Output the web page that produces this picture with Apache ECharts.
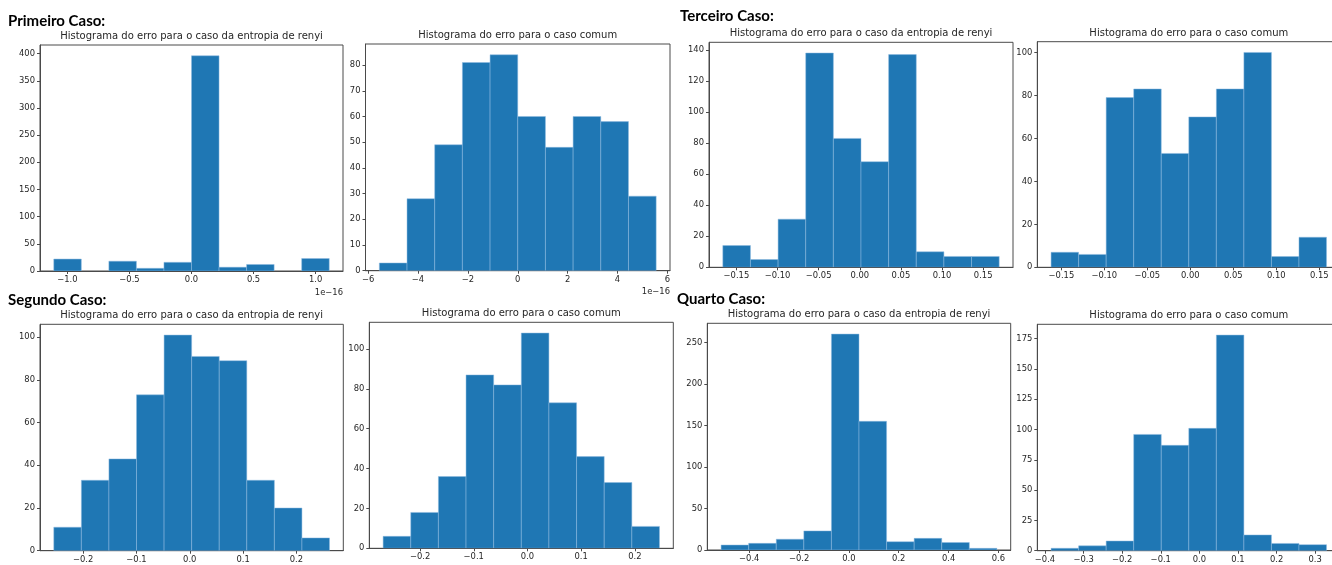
<!DOCTYPE html>
<html><head><meta charset="utf-8">
<script src="https://cdn.jsdelivr.net/npm/echarts@6/dist/echarts.min.js"></script>
<style>html,body{margin:0;padding:0;background:#fff}#c{width:1332px;height:565px}</style>
</head><body><div id="c"></div>
<script>
// ---------- texts ----------
const caseLabels = ['Primeiro Caso:', 'Segundo Caso:', 'Terceiro Caso:', 'Quarto Caso:'];
const titleRenyi = 'Histograma do erro para o caso da entropia de renyi';
const titleComum = 'Histograma do erro para o caso comum';
const offsetLabel = '1e\u221216';

// ---------- Primeiro Caso (x in units of 1e-16) ----------
const counts1Renyi = [22, 0, 18, 5, 16, 396, 7, 12, 0, 23];
const range1Renyi = [-1.11, 1.11];
const xTicks1Renyi = [-1.0, -0.5, 0.0, 0.5, 1.0];
const yTicks1Renyi = [0, 50, 100, 150, 200, 250, 300, 350, 400];

const counts1Comum = [3, 28, 49, 81, 84, 60, 48, 60, 58, 29];
const range1Comum = [-5.55, 5.55];
const xTicks1Comum = [-6, -4, -2, 0, 2, 4, 6];
const yTicks1Comum = [0, 10, 20, 30, 40, 50, 60, 70, 80];

// ---------- Segundo Caso ----------
const counts2Renyi = [11, 33, 43, 73, 101, 91, 89, 33, 20, 6];
const range2Renyi = [-0.255, 0.262];
const xTicks2Renyi = [-0.2, -0.1, 0.0, 0.1, 0.2];
const yTicks2Renyi = [0, 20, 40, 60, 80, 100];

const counts2Comum = [6, 18, 36, 87, 82, 108, 73, 46, 33, 11];
const range2Comum = [-0.2688, 0.2458];
const xTicks2Comum = [-0.2, -0.1, 0.0, 0.1, 0.2];
const yTicks2Comum = [0, 20, 40, 60, 80, 100];

// ---------- Terceiro Caso ----------
const counts3Renyi = [14, 5, 31, 138, 83, 68, 137, 10, 7, 7];
const range3Renyi = [-0.1665, 0.1695];
const xTicks3Renyi = [-0.15, -0.10, -0.05, 0.00, 0.05, 0.10, 0.15];
const yTicks3Renyi = [0, 20, 40, 60, 80, 100, 120, 140];

const counts3Comum = [7, 6, 79, 83, 53, 70, 83, 100, 5, 14];
const range3Comum = [-0.162, 0.1585];
const xTicks3Comum = [-0.15, -0.10, -0.05, 0.00, 0.05, 0.10, 0.15];
const yTicks3Comum = [0, 20, 40, 60, 80, 100];

// ---------- Quarto Caso ----------
const counts4Renyi = [6, 8, 13, 23, 260, 155, 10, 14, 9, 2];
const range4Renyi = [-0.513, 0.594];
const xTicks4Renyi = [-0.4, -0.2, 0.0, 0.2, 0.4, 0.6];
const yTicks4Renyi = [0, 50, 100, 150, 200, 250];

const counts4Comum = [2, 4, 8, 96, 87, 101, 178, 13, 6, 5];
const range4Comum = [-0.3843, 0.3295];
const xTicks4Comum = [-0.4, -0.3, -0.2, -0.1, 0.0, 0.1, 0.2, 0.3];
const yTicks4Comum = [0, 25, 50, 75, 100, 125, 150, 175];

// ---------- panels (data refs + layout) ----------
const panels = [
  {counts: counts1Renyi, range: range1Renyi, xt: xTicks1Renyi, yt: yTicks1Renyi, dec: 1, title: titleRenyi, offset: true,
   box: {left: 40, top: 45, width: 303, height: 226}},
  {counts: counts1Comum, range: range1Comum, xt: xTicks1Comum, yt: yTicks1Comum, dec: 0, title: titleComum, offset: true,
   box: {left: 365.5, top: 44, width: 304.5, height: 226.7}},
  {counts: counts3Renyi, range: range3Renyi, xt: xTicks3Renyi, yt: yTicks3Renyi, dec: 2, title: titleRenyi,
   box: {left: 709, top: 42.3, width: 304, height: 225}},
  {counts: counts3Comum, range: range3Comum, xt: xTicks3Comum, yt: yTicks3Comum, dec: 2, title: titleComum,
   box: {left: 1037.3, top: 41.7, width: 303, height: 225.6}},
  {counts: counts2Renyi, range: range2Renyi, xt: xTicks2Renyi, yt: yTicks2Renyi, dec: 1, title: titleRenyi,
   box: {left: 40, top: 324.3, width: 303.3, height: 226.4}},
  {counts: counts2Comum, range: range2Comum, xt: xTicks2Comum, yt: yTicks2Comum, dec: 1, title: titleComum,
   box: {left: 369.3, top: 322.3, width: 304, height: 226}},
  {counts: counts4Renyi, range: range4Renyi, xt: xTicks4Renyi, yt: yTicks4Renyi, dec: 1, title: titleRenyi,
   box: {left: 707.3, top: 323.3, width: 303.4, height: 226.7}},
  {counts: counts4Comum, range: range4Comum, xt: xTicks4Comum, yt: yTicks4Comum, dec: 1, title: titleComum,
   box: {left: 1037.3, top: 324.3, width: 303, height: 226.4}}
];

const caseLabelPos = [[8, 21], [8, 300], [680, 16.5], [677, 299.5]];

const BAR = '#1f77b4';
const FRAME = '#4a4a4a';
const TXT = '#262626';
const FONT = 'DejaVu Sans';

function fmt(v, d) { return v.toFixed(d).replace('-', '\u2212'); }

const grids = [], xAxes = [], yAxes = [], series = [], graphics = [];

panels.forEach(function (p, i) {
  const lo = p.range[0], hi = p.range[1], n = p.counts.length;
  const w = (hi - lo) / n;
  const span = hi - lo;
  const peak = Math.max.apply(null, p.counts);
  grids.push(Object.assign({show: true, borderColor: FRAME, borderWidth: 1, backgroundColor: 'transparent',
    containLabel: false, outerBoundsMode: 'none'}, p.box));
  xAxes.push({
    type: 'value', gridIndex: i, min: lo - 0.05 * span, max: hi + 0.05 * span,
    splitLine: {show: false},
    axisLine: {show: true, onZero: false, lineStyle: {color: FRAME, width: 1}},
    axisTick: {show: true, length: 3, customValues: p.xt, lineStyle: {color: FRAME}},
    axisLabel: {customValues: p.xt, margin: 5, fontSize: 8.4, fontFamily: FONT, color: TXT,
      formatter: (function (d) { return function (v) { return fmt(v, d); }; })(p.dec)}
  });
  yAxes.push({
    type: 'value', gridIndex: i, min: 0, max: peak * 1.05,
    splitLine: {show: false},
    axisLine: {show: true, onZero: false, lineStyle: {color: FRAME, width: 1}},
    axisTick: {show: true, length: 3, customValues: p.yt, lineStyle: {color: FRAME}},
    axisLabel: {customValues: p.yt, margin: 5, fontSize: 8.4, fontFamily: FONT, color: TXT,
      formatter: function (v) { return String(Math.round(v)); }}
  });
  const data = p.counts.map(function (c, k) { return [lo + k * w, lo + (k + 1) * w, c]; });
  series.push({
    type: 'custom', xAxisIndex: i, yAxisIndex: i, data: data, encode: {x: [0, 1], y: 2},
    silent: true, animation: false, clip: true,
    renderItem: function (params, api) {
      const c = api.value(2);
      if (!c) return null;
      const a = api.coord([api.value(0), c]);
      const b = api.coord([api.value(1), 0]);
      return {type: 'rect', shape: {x: a[0], y: a[1], width: b[0] - a[0], height: b[1] - a[1]},
        style: {fill: BAR, stroke: '#8fbbe0', lineWidth: 0.5}};
    }
  });
  const cx = p.box.left + p.box.width / 2;
  graphics.push({type: 'text', x: cx, y: p.box.top - 8.7, silent: true,
    style: {text: p.title, fontSize: 10, fontFamily: FONT, fill: TXT, textAlign: 'center', textVerticalAlign: 'middle'}});
  if (p.offset) {
    graphics.push({type: 'text', x: p.box.left + p.box.width, y: p.box.top + p.box.height + 21.5, silent: true,
      style: {text: offsetLabel, fontSize: 8.4, fontFamily: FONT, fill: TXT, textAlign: 'right', textVerticalAlign: 'middle'}});
  }
});

caseLabels.forEach(function (t, i) {
  graphics.push({type: 'text', x: caseLabelPos[i][0], y: caseLabelPos[i][1], silent: true,
    style: {text: t, fontSize: 15, fontWeight: 'bold', fontFamily: 'Lato', fill: '#000', textAlign: 'left', textVerticalAlign: 'middle'}});
});

const chart = echarts.init(document.getElementById('c'), null, {renderer: 'canvas'});
chart.setOption({
  animation: false,
  backgroundColor: '#fff',
  grid: grids, xAxis: xAxes, yAxis: yAxes, series: series, graphic: graphics
});
</script></body></html>
